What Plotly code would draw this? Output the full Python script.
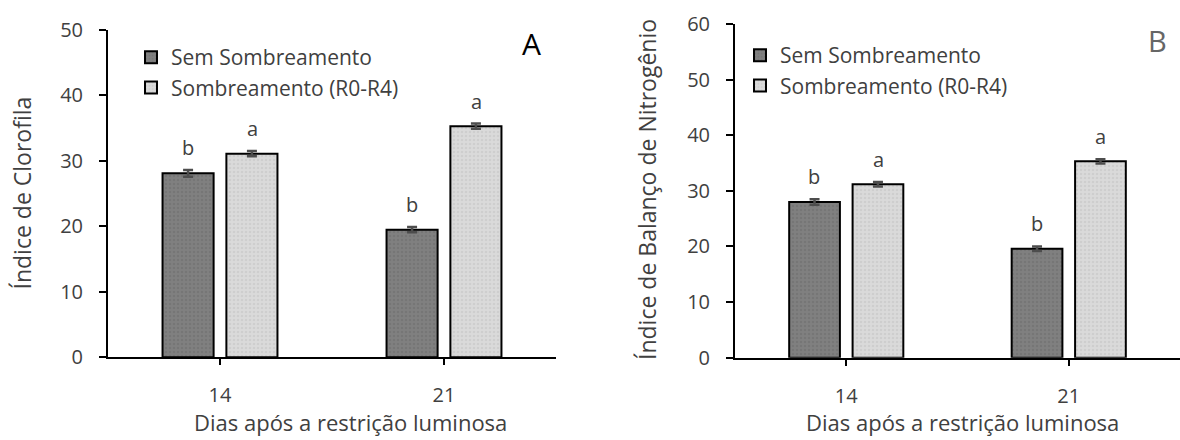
import plotly.graph_objects as go

# ---- data ----
dias = ["14", "21"]
series_names = ["Sem Sombreamento", "Sombreamento (R0-R4)"]

clorofila_sem = [28.1, 19.5]
clorofila_som = [31.1, 35.3]
clorofila_sem_err = [0.5, 0.4]
clorofila_som_err = [0.4, 0.4]
clorofila_sem_letras = ["b", "b"]
clorofila_som_letras = ["a", "a"]

nbi_sem = [28.0, 19.6]
nbi_som = [31.2, 35.3]
nbi_sem_err = [0.5, 0.4]
nbi_som_err = [0.4, 0.4]
nbi_sem_letras = ["b", "b"]
nbi_som_letras = ["a", "a"]

y_ticks_a = [0, 10, 20, 30, 40, 50]
y_ticks_b = [0, 10, 20, 30, 40, 50, 60]

x_title = "Dias após a restrição luminosa"
y_title_a = "Índice de Clorofila"
y_title_b = "Índice de Balanço de Nitrogênio"

# ---- style ----
FONT = "'Open Sans', sans-serif"
TXT = "#404040"
DARK, DARK_DOT = "#808080", "#6e6e6e"
LIGHT, LIGHT_DOT = "#dadada", "#c4c4c4"
W, H = 1180, 440

fig = go.Figure()

def add_panel(xa, ya, legend, sem, som, sem_err, som_err):
    for name, vals, errs, col, dot in [(series_names[0], sem, sem_err, DARK, DARK_DOT),
                                       (series_names[1], som, som_err, LIGHT, LIGHT_DOT)]:
        fig.add_trace(go.Bar(
            x=dias, y=vals, name=name, xaxis=xa, yaxis=ya, legend=legend,
            marker=dict(color=col, line=dict(color="black", width=2),
                        pattern=dict(shape=".", fillmode="overlay", fgcolor=dot,
                                     fgopacity=0.6, size=4, solidity=0.3)),
            error_y=dict(type="data", array=errs, visible=True,
                         color="#4d4d4d", thickness=2.5, width=5),
            showlegend=True,
        ))

add_panel("x", "y", "legend", clorofila_sem, clorofila_som, clorofila_sem_err, clorofila_som_err)
add_panel("x2", "y2", "legend2", nbi_sem, nbi_som, nbi_sem_err, nbi_som_err)

axis_common = dict(showline=True, linecolor="black", linewidth=2, ticks="outside",
                   tickcolor="black", tickwidth=2, showgrid=False, zeroline=False,
                   automargin=False,
                   tickfont=dict(family=FONT, size=20, color=TXT))

fig.update_layout(
    width=W, height=H, autosize=False,
    margin=dict(l=0, r=0, t=0, b=0, pad=0, autoexpand=False),
    paper_bgcolor="white", plot_bgcolor="white",
    barmode="group", bargap=0.43, bargroupgap=0.2,
    font=dict(family=FONT, color=TXT),
    xaxis=dict(domain=[108 / W, 556 / W], anchor="y", range=[-0.5, 1.5],
               type="category", ticklen=6, ticklabelstandoff=13, **axis_common),
    yaxis=dict(domain=[1 - 357.3 / H, 1 - 30 / H], anchor="x", range=[0, 50],
               tickvals=y_ticks_a, ticklen=7, ticklabelstandoff=12, **axis_common),
    xaxis2=dict(domain=[735 / W, 1.0], anchor="y2", range=[-0.5, 1.5],
                type="category", ticklen=6, ticklabelstandoff=13, **axis_common),
    yaxis2=dict(domain=[1 - 357.7 / H, 1 - 24 / H], anchor="x2", range=[0, 60],
                tickvals=y_ticks_b, ticklen=7, ticklabelstandoff=12, **axis_common),
    legend=dict(x=131 / W, y=1 - 37 / H, xanchor="left", yanchor="top",
                bgcolor="rgba(0,0,0,0)", font=dict(family=FONT, size=21, color=TXT),
                traceorder="normal", tracegroupgap=0),
    legend2=dict(x=740 / W, y=1 - 35 / H, xanchor="left", yanchor="top",
                 bgcolor="rgba(0,0,0,0)", font=dict(family=FONT, size=21, color=TXT),
                 traceorder="normal", tracegroupgap=0),
)

ann = []
def letters(xref, yref, vals, errs, labs, shift):
    for i, (v, e, l) in enumerate(zip(vals, errs, labs)):
        ann.append(dict(x=i, y=v + e, xref=xref, yref=yref, text=l, showarrow=False,
                        xshift=shift, yshift=7, yanchor="bottom",
                        font=dict(family=FONT, size=20, color=TXT)))

letters("x", "y", clorofila_sem, clorofila_sem_err, clorofila_sem_letras, -32)
letters("x", "y", clorofila_som, clorofila_som_err, clorofila_som_letras, 32)
letters("x2", "y2", nbi_sem, nbi_sem_err, nbi_sem_letras, -32)
letters("x2", "y2", nbi_som, nbi_som_err, nbi_som_letras, 32)

# axis titles
ann.append(dict(x=22 / W, y=1 - 193.5 / H, xref="paper", yref="paper", text=y_title_a,
                textangle=-90, showarrow=False, xanchor="center", yanchor="middle",
                font=dict(family=FONT, size=23, color=TXT)))
ann.append(dict(x=647 / W, y=1 - 190 / H, xref="paper", yref="paper", text=y_title_b,
                textangle=-90, showarrow=False, xanchor="center", yanchor="middle",
                font=dict(family=FONT, size=23, color=TXT)))
ann.append(dict(x=350 / W, y=1 - 422 / H, xref="paper", yref="paper", text=x_title,
                showarrow=False, xanchor="center", yanchor="middle",
                font=dict(family=FONT, size=22, color=TXT)))
ann.append(dict(x=962 / W, y=1 - 422 / H, xref="paper", yref="paper", text=x_title,
                showarrow=False, xanchor="center", yanchor="middle",
                font=dict(family=FONT, size=22, color=TXT)))
# panel labels
ann.append(dict(x=531 / W, y=1 - 44 / H, xref="paper", yref="paper", text="A",
                showarrow=False, xanchor="center", yanchor="middle",
                font=dict(family=FONT, size=30, color="black")))
ann.append(dict(x=1157.5 / W, y=1 - 40 / H, xref="paper", yref="paper", text="B",
                showarrow=False, xanchor="center", yanchor="middle",
                font=dict(family=FONT, size=29, color="#666666")))

fig.update_layout(annotations=ann)
fig.write_html("out.html", config={"displayModeBar": False},
               post_script="document.body.style.margin='0';")
